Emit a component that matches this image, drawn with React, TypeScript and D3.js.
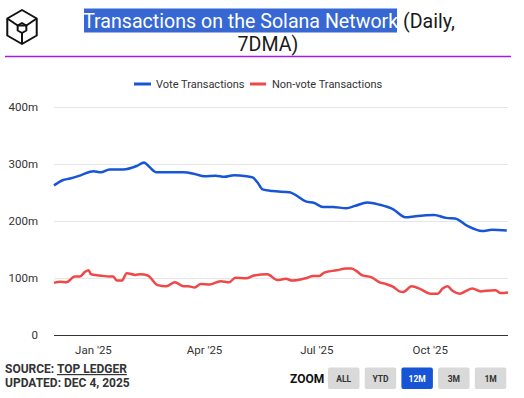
import React from 'react';
import * as d3 from 'd3';

// 7DMA, millions of transactions
const voteDates = [
  '2024-11-30', '2024-12-07', '2024-12-13', '2024-12-22', '2025-01-01', '2025-01-07', '2025-01-14',
  '2025-01-25', '2025-02-05', '2025-02-11', '2025-02-15', '2025-02-21', '2025-03-04', '2025-03-15',
  '2025-03-24', '2025-04-01', '2025-04-10', '2025-04-17', '2025-04-25', '2025-05-05', '2025-05-10',
  '2025-05-14', '2025-05-18', '2025-05-26', '2025-06-09', '2025-06-14', '2025-06-22', '2025-06-29',
  '2025-07-06', '2025-07-14', '2025-07-25', '2025-08-01', '2025-08-11', '2025-08-21', '2025-09-01',
  '2025-09-11', '2025-09-19', '2025-10-04', '2025-10-14', '2025-10-21', '2025-10-31', '2025-11-12',
  '2025-11-20', '2025-12-02',
];
const voteValues = [
  263, 272, 275, 281, 288, 286, 291,
  291, 297, 303, 296, 286, 286, 286,
  283, 279, 280, 278, 281, 279, 277,
  268, 256, 253, 251, 246, 235, 232,
  225, 225, 223, 227, 233, 229, 221,
  207, 209, 211, 206, 205, 192, 183,
  185, 184,
];

const nonVoteDates = [
  '2024-11-30', '2024-12-05', '2024-12-10', '2024-12-17', '2024-12-21', '2024-12-25', '2024-12-28',
  '2024-12-30', '2025-01-06', '2025-01-14', '2025-01-17', '2025-01-20', '2025-01-24', '2025-01-28',
  '2025-02-04', '2025-02-08', '2025-02-14', '2025-02-22', '2025-03-01', '2025-03-08', '2025-03-15',
  '2025-03-19', '2025-03-24', '2025-03-29', '2025-04-05', '2025-04-14', '2025-04-21', '2025-04-26',
  '2025-05-05', '2025-05-11', '2025-05-22', '2025-05-30', '2025-06-06', '2025-06-11', '2025-06-22',
  '2025-06-28', '2025-07-03', '2025-07-07', '2025-07-17', '2025-07-25', '2025-07-29', '2025-08-02',
  '2025-08-07', '2025-08-14', '2025-08-21', '2025-08-26', '2025-09-01', '2025-09-06', '2025-09-09',
  '2025-09-16', '2025-09-23', '2025-10-01', '2025-10-07', '2025-10-11', '2025-10-15', '2025-10-19',
  '2025-10-25', '2025-10-30', '2025-11-04', '2025-11-11', '2025-11-15', '2025-11-23', '2025-11-27',
  '2025-12-03',
];
const nonVoteValues = [
  92, 94, 93, 103, 103, 111, 114,
  107, 105, 103, 103, 96, 96, 109,
  106, 107, 105, 88, 86, 93, 86,
  86, 84, 90, 89, 95, 93, 101,
  100, 105, 107, 97, 99, 96, 100,
  104, 104, 110, 114, 117, 117, 113,
  105, 102, 93, 90, 85, 77, 76,
  86, 81, 73, 73, 82, 86, 78,
  73, 78, 82, 77, 78, 79, 74,
  75,
];

const yTicks = [0, 100, 200, 300, 400];
const xTicks = ['2025-01-01', '2025-04-01', '2025-07-01', '2025-10-01'];
const zoomButtons = ['ALL', 'YTD', '12M', '3M', '1M'];
const activeZoom = '12M';

const W = 524;
const H = 398;
const FONT = 'Roboto, "Noto Sans", sans-serif';
const BLUE = '#1755d6';
const RED = '#f04848';

const parse = d3.utcParse('%Y-%m-%d');

export default function App() {
  const x = d3.scaleUtc()
    .domain([parse('2024-11-30')!, parse('2025-12-03')!])
    .range([54, 508]);
  const y = d3.scaleLinear().domain([0, 400]).range([335.3, 107.3]);

  const line = d3.line<[Date, number]>()
    .x(d => x(d[0]))
    .y(d => y(d[1]))
    .curve(d3.curveMonotoneX);

  const vote = voteDates.map((d, i) => [parse(d)!, voteValues[i]] as [Date, number]);
  const nonVote = nonVoteDates.map((d, i) => [parse(d)!, nonVoteValues[i]] as [Date, number]);
  const fmtX = d3.utcFormat("%b '%y");

  // cube logo
  const cx = 22, cy = 27, R = 17, r = 5;
  const hex = (rad: number, ox = cx, oy = cy) => d3.range(6).map(k => {
    const a = (Math.PI / 3) * k - Math.PI / 2;
    return [ox + rad * Math.cos(a), oy + rad * Math.sin(a)];
  });
  const outer = hex(R);
  const inner = hex(r, cx, cy + 1);
  const poly = (pts: number[][]) => 'M' + pts.map(p => p.join(',')).join('L') + 'Z';

  return (
    <svg width={W} height={H} style={{ position: 'absolute', left: 0, top: 0, background: '#fff' }} fontFamily={FONT}>
      {/* logo */}
      <g fill="none" stroke="#111" strokeWidth={2} strokeLinejoin="round">
        <path d={poly(outer)} />
        <path d={poly(inner)} />
        {[5, 1, 3].map(k => (
          <line key={k} x1={inner[k][0]} y1={inner[k][1]} x2={outer[k][0]} y2={outer[k][1]} />
        ))}
        <line x1={inner[5][0]} y1={inner[5][1]} x2={inner[1][0]} y2={inner[1][1]} />
      </g>

      {/* title */}
      <rect x={84} y={8.5} width={313} height={24} fill="#3767d3" />
      <text x={269} y={28} textAnchor="middle" fontSize={19.6} fill="#1a1a1a">
        <tspan fill="#fff">Transactions on the Solana Network</tspan> (Daily,
      </text>
      <text x={268} y={51} textAnchor="middle" fontSize={19.6} fill="#1a1a1a">7DMA)</text>
      <line x1={5} x2={511} y1={56.5} y2={56.5} stroke="#a21cf0" strokeWidth={1.5} />

      {/* legend */}
      <line x1={134} x2={151} y1={84} y2={84} stroke={BLUE} strokeWidth={3} />
      <text x={156} y={88} fontSize={11} fill="#333">Vote Transactions</text>
      <line x1={250} x2={266} y1={84} y2={84} stroke={RED} strokeWidth={3} />
      <text x={272} y={88} fontSize={11} fill="#333">Non-vote Transactions</text>

      {/* grid + y axis */}
      {yTicks.map(t => (
        <g key={t}>
          {t > 0 && <line x1={54} x2={508} y1={Math.round(y(t)) + 0.5} y2={Math.round(y(t)) + 0.5} stroke="#e6e6e6" />}
          <text x={38} y={y(t) + 4} textAnchor="end" fontSize={11.5} fill="#333">{t === 0 ? '0' : `${t}m`}</text>
        </g>
      ))}

      {/* lines */}
      <path d={line(vote) ?? ''} fill="none" stroke={BLUE} strokeWidth={2.5} strokeLinejoin="round" />
      <path d={line(nonVote) ?? ''} fill="none" stroke={RED} strokeWidth={2.5} strokeLinejoin="round" />

      <line x1={54} x2={508} y1={335.5} y2={335.5} stroke="#333" strokeWidth={1.2} />
      {xTicks.map(t => (
        <text key={t} x={x(parse(t)!)} y={354} textAnchor="middle" fontSize={11.5} fill="#333">{fmtX(parse(t)!)}</text>
      ))}

      {/* footer */}
      <text x={5} y={373} fontSize={12} fontWeight="bold" fill="#333">
        SOURCE: <tspan textDecoration="underline">TOP LEDGER</tspan>
      </text>
      <text x={5} y={387} fontSize={12} fontWeight="bold" fill="#333">UPDATED: DEC 4, 2025</text>

      <text x={290} y={383} fontSize={12} fontWeight="bold" fill="#111">ZOOM</text>
      {zoomButtons.map((b, i) => {
        const bx = 328 + i * 36.7;
        const on = b === activeZoom;
        return (
          <g key={b}>
            <rect x={bx} y={367.5} width={31.5} height={21.5} rx={2} fill={on ? BLUE : '#d9d9d9'} />
            <text x={bx + 15.75} y={381.5} textAnchor="middle" fontSize={8.5} fontWeight="bold" fill={on ? '#fff' : '#333'}>{b}</text>
          </g>
        );
      })}
    </svg>
  );
}
